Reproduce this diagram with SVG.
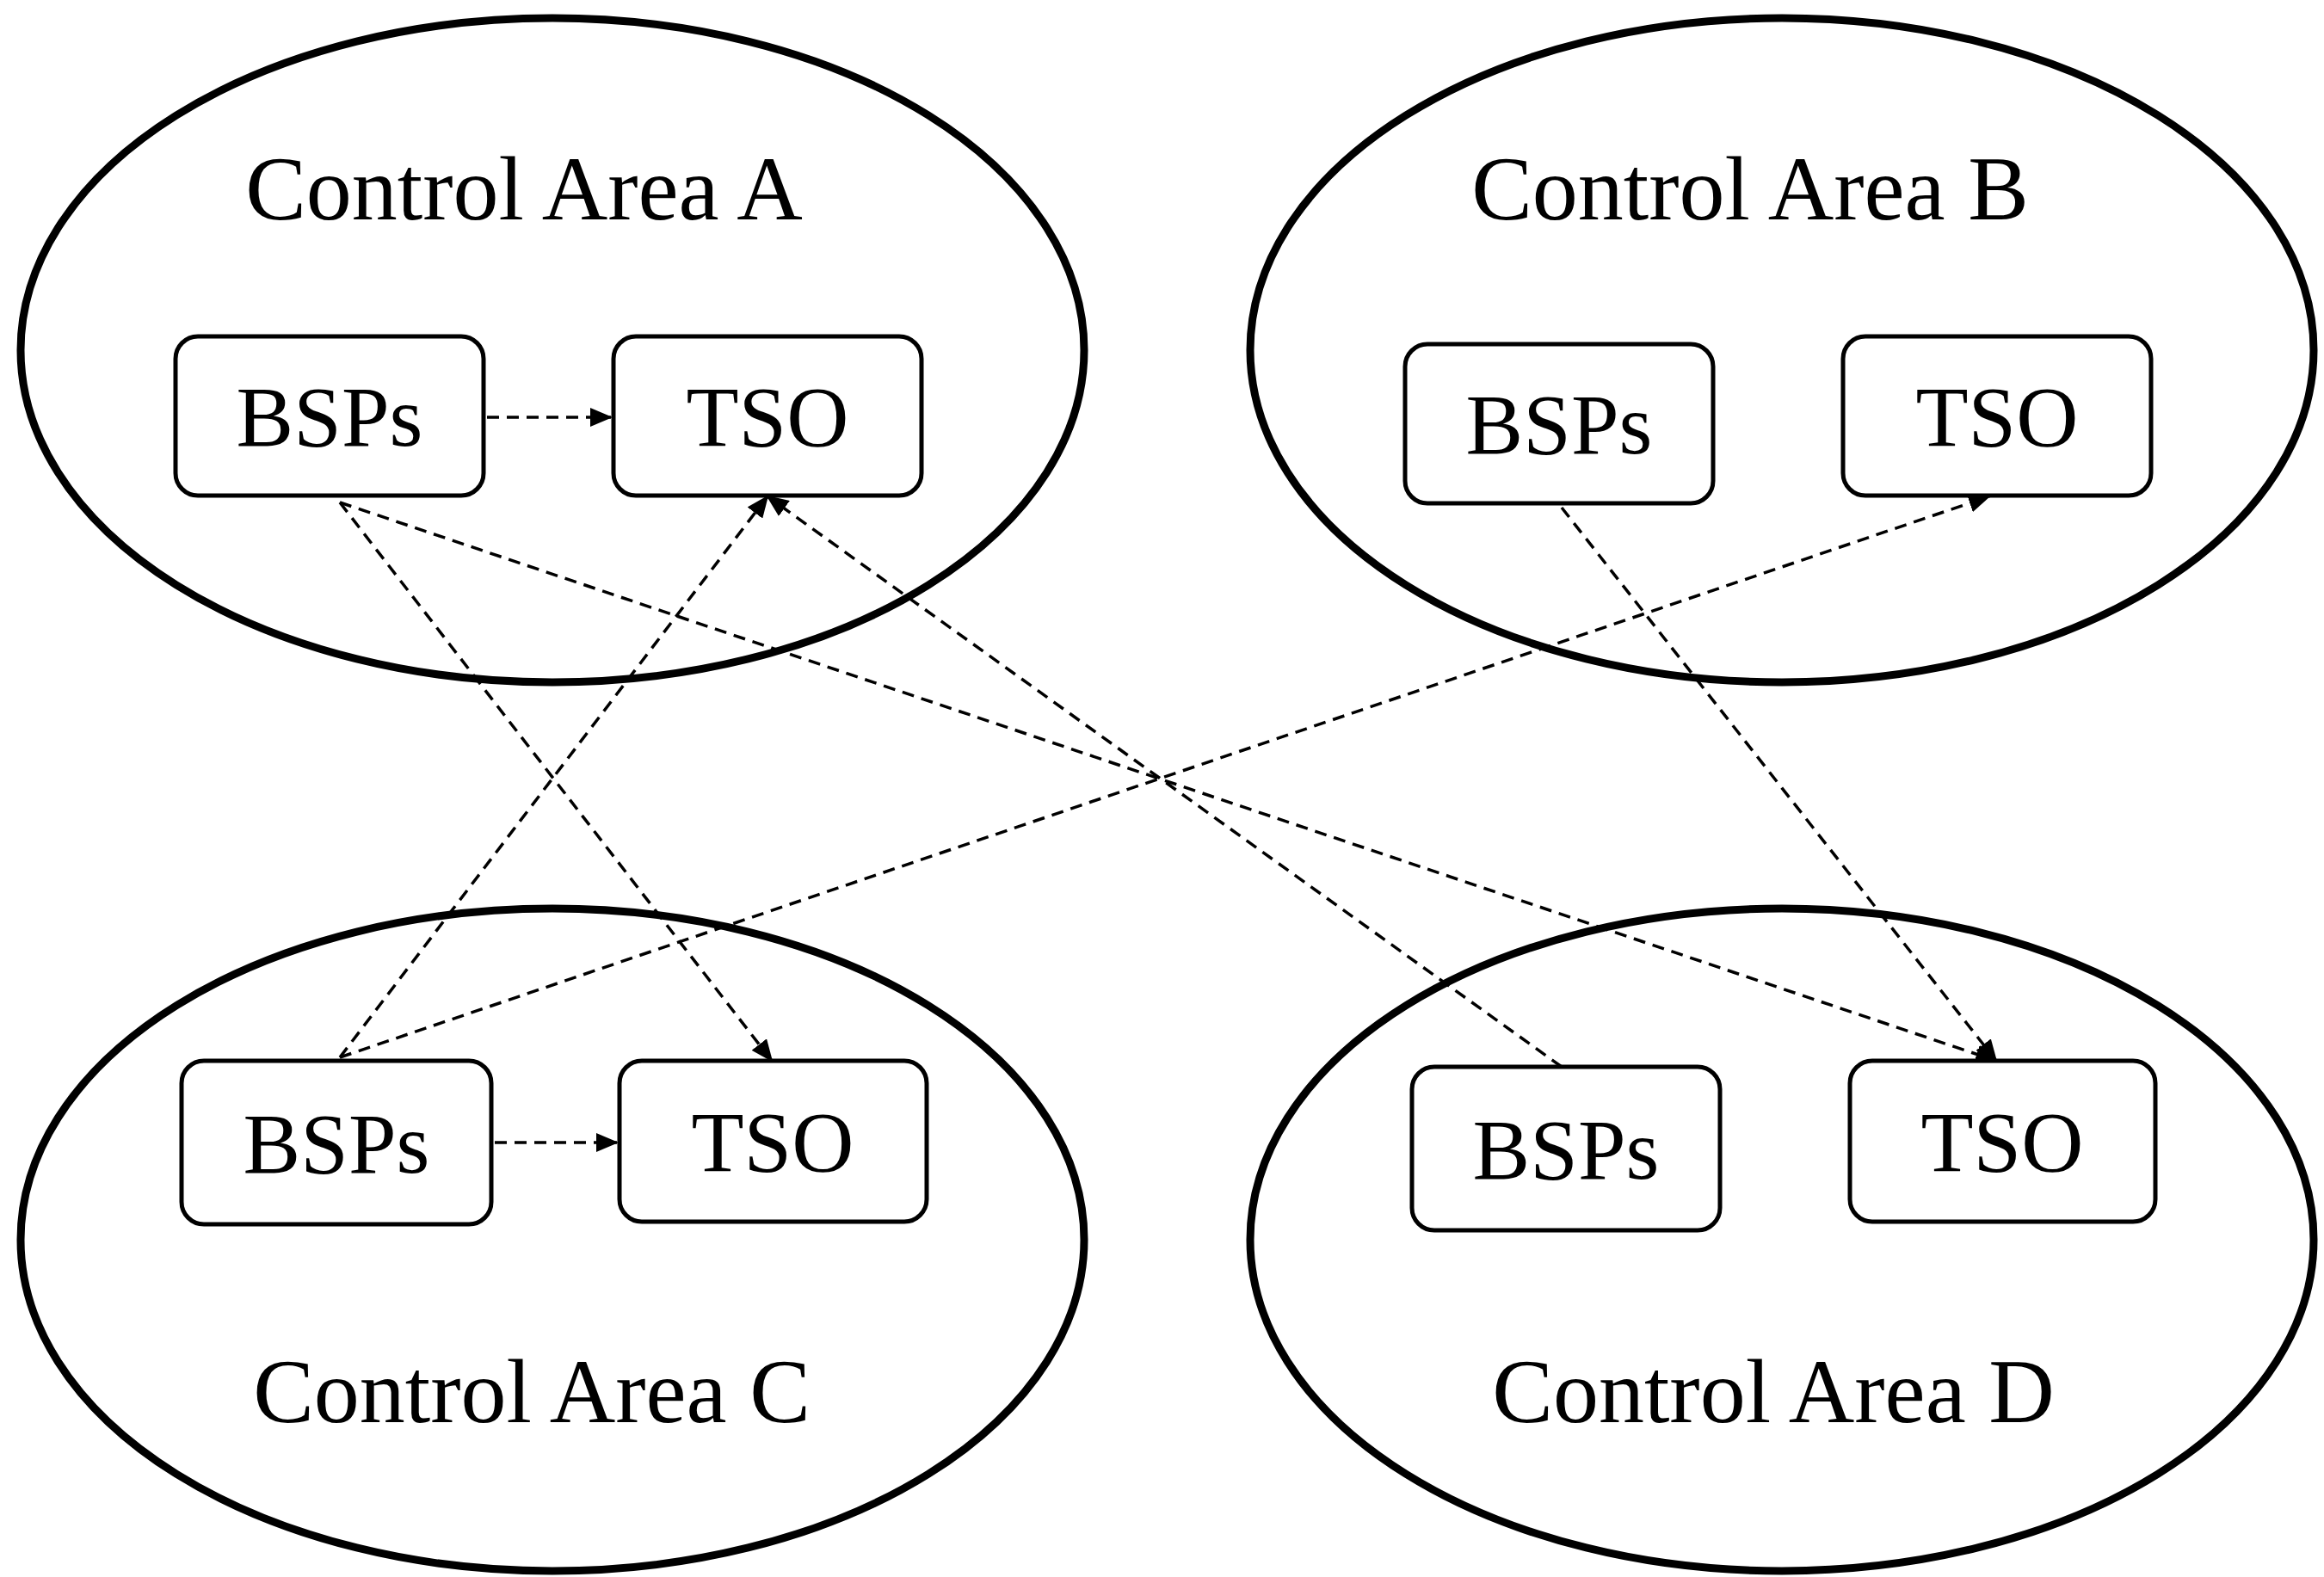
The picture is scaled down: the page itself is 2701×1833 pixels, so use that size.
<svg xmlns="http://www.w3.org/2000/svg" width="2701" height="1833" viewBox="0 0 2701 1833">
<style>
.area{fill:none;stroke:#000;stroke-width:9}
.box{fill:#fff;stroke:#000;stroke-width:5}
.t{font-family:"Liberation Serif",serif;font-size:106px;text-anchor:middle;fill:#000}
.b{font-family:"Liberation Serif",serif;font-size:100px;text-anchor:middle;fill:#000}
.c{fill:none;stroke:#000;stroke-width:3.5;stroke-dasharray:14 9;marker-end:url(#ah)}
</style>
<defs><marker id="ah" markerWidth="26" markerHeight="22" refX="24" refY="11" orient="auto" markerUnits="userSpaceOnUse" viewBox="0 0 26 22"><path d="M0,0 L26,11 L0,22 z" fill="#000"/></marker>
</defs>
<rect width="2701" height="1833" fill="#fff"/>
<g id="areaA"><ellipse class="area" cx="642" cy="407" rx="618" ry="386"/><text class="t" x="609" y="255">Control Area A</text></g>
<g id="areaB"><ellipse class="area" cx="2071" cy="407" rx="618" ry="386"/><text class="t" x="2034" y="255">Control Area B</text></g>
<g id="areaC"><ellipse class="area" cx="642" cy="1441" rx="618" ry="385"/><text class="t" x="618" y="1653">Control Area C</text></g>
<g id="areaD"><ellipse class="area" cx="2071" cy="1441" rx="618" ry="385"/><text class="t" x="2061" y="1653">Control Area D</text></g>
<g id="connectors">
<line class="c" x1="566" y1="485" x2="710" y2="485"/>
<line class="c" x1="395" y1="584" x2="897" y2="1233"/>
<line class="c" x1="395" y1="584" x2="2320" y2="1233"/>
<line class="c" x1="395" y1="1229" x2="892" y2="577"/>
<line class="c" x1="395" y1="1229" x2="2312" y2="577"/>
<line class="c" x1="1815" y1="1240" x2="892" y2="577"/>
<line class="c" x1="1815" y1="590" x2="2320" y2="1233"/>
<line class="c" x1="575" y1="1328" x2="717" y2="1328"/>
</g>
<g id="bspA"><rect class="box" x="204" y="391" width="358" height="185" rx="26"/><text class="b" x="383" y="518">BSPs</text></g>
<g id="tsoA"><rect class="box" x="713" y="391" width="358" height="185" rx="26"/><text class="b" x="892" y="518">TSO</text></g>
<g id="bspB"><rect class="box" x="1633" y="400" width="358" height="185" rx="26"/><text class="b" x="1812" y="527">BSPs</text></g>
<g id="tsoB"><rect class="box" x="2142" y="391" width="358" height="185" rx="26"/><text class="b" x="2321" y="518">TSO</text></g>
<g id="bspC"><rect class="box" x="211" y="1233" width="360" height="190" rx="26"/><text class="b" x="391" y="1363">BSPs</text></g>
<g id="tsoC"><rect class="box" x="720" y="1233" width="357" height="187" rx="26"/><text class="b" x="898" y="1361">TSO</text></g>
<g id="bspD"><rect class="box" x="1641" y="1240" width="358" height="190" rx="26"/><text class="b" x="1820" y="1370">BSPs</text></g>
<g id="tsoD"><rect class="box" x="2150" y="1233" width="355" height="187" rx="26"/><text class="b" x="2327" y="1361">TSO</text></g>
</svg>
